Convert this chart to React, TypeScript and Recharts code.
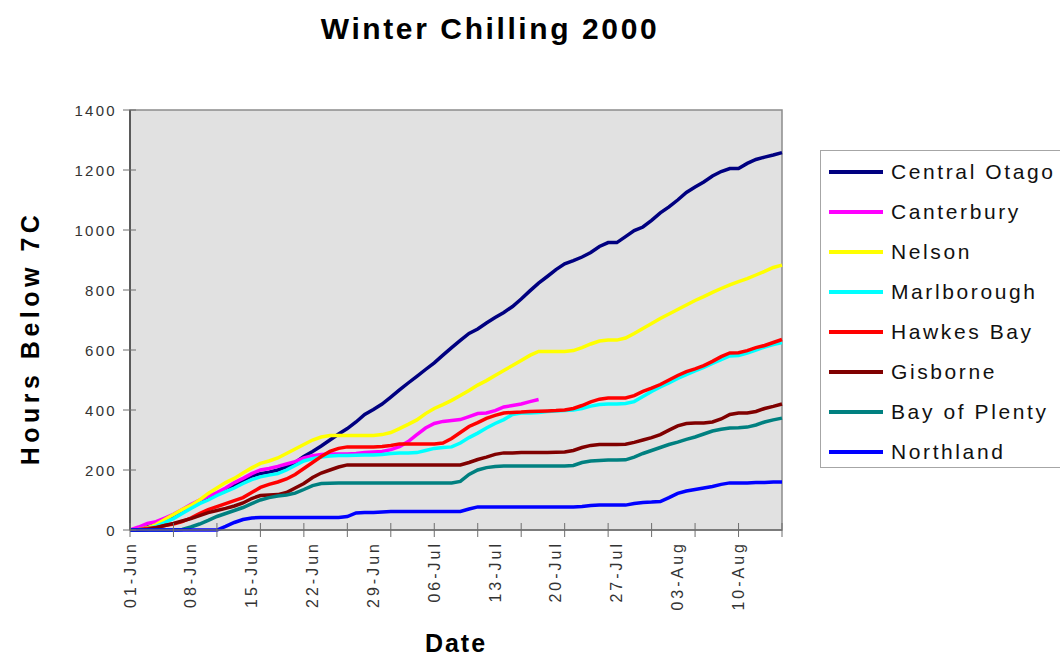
import React from 'react';
import { LineChart, Line, XAxis, YAxis, CartesianGrid, ReferenceArea } from 'recharts';

// cumulative hours below 7C, one value per day from 01-Jun
const centralOtago = [
  0, 3, 10, 18, 30, 45, 60, 75, 90, 105, 120, 135, 150, 165, 180, 188, 193, 200, 210, 225,
  245, 262, 280, 300, 320, 338, 360, 385, 402, 420, 443, 467, 490, 512, 535, 557, 583, 608, 632, 655,
  670, 690, 708, 725, 745, 770, 797, 823, 845, 868, 887, 898, 910, 925, 945, 958, 958, 978, 998, 1010,
  1032, 1057, 1077, 1100, 1125, 1143, 1160, 1180, 1195, 1205, 1205, 1222, 1235, 1243, 1250, 1258,
];
const canterbury = [
  0, 10, 22, 28, 40, 52, 68, 85, 100, 112, 125, 140, 158, 172, 188, 200, 205, 212, 220, 228,
  240, 248, 252, 253, 253, 253, 255, 258, 260, 262, 268, 278, 295, 318, 340, 355, 362, 365, 368, 378,
  388, 390, 398, 410, 415, 420, 428, 435,
];
const nelson = [
  0, 2, 8, 18, 35, 52, 68, 82, 100, 122, 140, 158, 172, 190, 207, 222, 230, 240, 255, 270,
  285, 300, 310, 315, 315, 315, 315, 315, 315, 318, 325, 338, 352, 367, 388, 405, 418, 432, 448, 465,
  483, 498, 515, 532, 548, 565, 582, 595, 595, 595, 595, 598, 608, 620, 630, 633, 633, 640, 655, 672,
  688, 705, 720, 735, 750, 765, 778, 792, 805, 817, 828, 838, 850, 862, 875, 883,
];
const marlborough = [
  0, 2, 5, 12, 25, 38, 55, 72, 88, 100, 115, 128, 140, 155, 168, 177, 183, 188, 200, 215,
  230, 238, 243, 247, 248, 248, 249, 250, 250, 252, 255, 257, 257, 258, 265, 272, 275, 277, 290, 308,
  323, 340, 355, 368, 385, 390, 390, 392, 395, 397, 398, 400, 405, 413, 418, 420, 420, 422, 428, 445,
  462, 477, 490, 505, 518, 530, 542, 555, 568, 580, 582, 590, 600, 610, 618, 625,
];
const hawkesBay = [
  0, 2, 5, 8, 15, 20, 28, 40, 55, 68, 78, 88, 98, 108, 125, 142, 152, 160, 170, 185,
  205, 225, 245, 262, 272, 277, 277, 277, 277, 278, 282, 287, 287, 287, 287, 287, 290, 305, 325, 345,
  358, 372, 382, 390, 392, 393, 395, 396, 397, 398, 400, 405, 415, 427, 436, 440, 440, 440, 448, 462,
  473, 485, 500, 515, 528, 537, 548, 562, 578, 590, 591, 598, 608, 615, 625, 635,
];
const gisborne = [
  0, 0, 2, 8, 15, 22, 30, 38, 48, 58, 65, 72, 80, 90, 105, 115, 117, 118, 125, 140,
  155, 175, 190, 200, 210, 217, 217, 217, 217, 217, 217, 217, 217, 217, 217, 217, 217, 217, 217, 225,
  235, 243, 252, 257, 257, 258, 258, 258, 258, 259, 260, 265, 275, 282, 285, 285, 285, 286, 292, 300,
  308, 318, 333, 347, 355, 357, 357, 360, 370, 385, 390, 390, 395, 405, 412, 420,
];
const bayOfPlenty = [
  0, 0, 0, 0, 0, 0, 2, 10, 20, 32, 45, 55, 65, 75, 88, 100, 108, 113, 117, 123,
  135, 148, 155, 156, 157, 157, 157, 157, 157, 157, 157, 157, 157, 157, 157, 157, 157, 157, 162, 185,
  200, 208, 212, 213, 213, 213, 213, 213, 213, 213, 213, 215, 225, 230, 232, 233, 233, 234, 243, 255,
  265, 275, 285, 293, 302, 310, 320, 330, 336, 340, 341, 343, 350, 360, 367, 373,
];
const northland = [
  0, 0, 0, 0, 0, 0, 0, 0, 0, 0, 0, 12, 25, 35, 40, 42, 42, 42, 42, 42,
  42, 42, 42, 42, 42, 45, 57, 58, 58, 60, 62, 62, 62, 62, 62, 62, 62, 62, 62, 70,
  77, 77, 77, 77, 77, 77, 77, 77, 77, 77, 77, 77, 78, 82, 83, 83, 83, 83, 88, 92,
  93, 95, 108, 122, 130, 135, 140, 145, 152, 157, 157, 157, 158, 158, 160, 160,
];

const labelDays = [0, 7, 14, 21, 28, 35, 42, 49, 56, 63, 70];
const labelText = ['01-Jun', '08-Jun', '15-Jun', '22-Jun', '29-Jun', '06-Jul', '13-Jul', '20-Jul', '27-Jul', '03-Aug', '10-Aug'];
const markDays = [0, 5, 10, 15, 20, 25, 30, 35, 40, 45, 50, 55, 60, 65, 70, 75];
const yTicks = [0, 200, 400, 600, 800, 1000, 1200, 1400];

const series = [
  { key: 'centralOtago', name: 'Central Otago', color: '#000080', values: centralOtago },
  { key: 'canterbury', name: 'Canterbury', color: '#ff00ff', values: canterbury },
  { key: 'nelson', name: 'Nelson', color: '#ffff00', values: nelson },
  { key: 'marlborough', name: 'Marlborough', color: '#00ffff', values: marlborough },
  { key: 'hawkesBay', name: 'Hawkes Bay', color: '#ff0000', values: hawkesBay },
  { key: 'gisborne', name: 'Gisborne', color: '#800000', values: gisborne },
  { key: 'bayOfPlenty', name: 'Bay of Plenty', color: '#008080', values: bayOfPlenty },
  { key: 'northland', name: 'Northland', color: '#0000ff', values: northland },
];

const data = centralOtago.map((_, day) => {
  const row: Record<string, number> = { day };
  series.forEach((s) => {
    if (day < s.values.length) row[s.key] = s.values[day];
  });
  return row;
});

const xTicks = Array.from(new Set([...markDays, ...labelDays])).sort((a, b) => a - b);

const FONT = '"Liberation Sans", Arial, sans-serif';
const AXIS = '#6e6e6e';

const XTick = (props: any) => {
  const { x, y, payload } = props;
  const d = payload.value;
  const li = labelDays.indexOf(d);
  return (
    <g>
      {markDays.includes(d) && <line x1={x} x2={x} y1={y - 7} y2={y + 7} stroke={AXIS} strokeWidth={1} />}
      {li >= 0 && (
        <text
          transform={`translate(${x},${y + 11}) rotate(-90)`}
          textAnchor="end"
          dominantBaseline="central"
          fontSize={16}
          letterSpacing={3}
          fill="#333"
          fontFamily={FONT}
        >
          {labelText[li]}
        </text>
      )}
    </g>
  );
};

const YTick = (props: any) => {
  const { x, y, payload } = props;
  return (
    <g>
      <line x1={x - 7} x2={x + 6} y1={y} y2={y} stroke={AXIS} strokeWidth={1} />
      <text x={x - 13} y={y} textAnchor="end" dominantBaseline="central" fontSize={15} letterSpacing={2.3} fill="#333" fontFamily={FONT}>
        {payload.value}
      </text>
    </g>
  );
};

const YTitle = () => (
  <text
    transform="translate(30,338) rotate(-90)"
    textAnchor="middle"
    dominantBaseline="central"
    fontSize={25}
    fontWeight="bold"
    letterSpacing={4.5}
    fill="#000"
    fontFamily={FONT}
  >
    Hours Below 7C
  </text>
);

const XTitle = () => (
  <text x={456} y={643} textAnchor="middle" dominantBaseline="central" fontSize={25} fontWeight="bold" letterSpacing={2} fill="#000" fontFamily={FONT}>
    Date
  </text>
);

export default function App() {
  return (
    <div style={{ position: 'absolute', left: 0, top: 0, width: 1060, height: 659, background: '#fff' }}>
      <div
        style={{
          position: 'absolute',
          left: 240,
          top: 12,
          width: 500,
          textAlign: 'center',
          fontFamily: FONT,
          fontWeight: 'bold',
          fontSize: 30,
          letterSpacing: 2.6,
          color: '#000',
        }}
      >
        Winter Chilling 2000
      </div>
      <LineChart width={1060} height={659} data={data} margin={{ top: 110, right: 278, bottom: 0, left: 0 }}>
        <CartesianGrid horizontal={false} vertical={false} fill="#e1e1e1" />
        <ReferenceArea x1={0} x2={75} y1={0} y2={1400} fill="none" stroke="#8c8c8c" strokeWidth={1.5} />
        <XAxis
          dataKey="day"
          type="number"
          domain={[0, 75]}
          ticks={xTicks}
          interval={0}
          height={129}
          tickSize={0}
          tickMargin={0}
          tickLine={false}
          axisLine={{ stroke: AXIS, strokeWidth: 1.5 }}
          tick={<XTick />}
          label={<XTitle />}
        />
        <YAxis
          type="number"
          domain={[0, 1400]}
          ticks={yTicks}
          interval={0}
          width={130}
          tickSize={0}
          tickMargin={0}
          tickLine={false}
          axisLine={{ stroke: '#5a5a5a', strokeWidth: 2 }}
          tick={<YTick />}
          label={<YTitle />}
        />
        {series.map((s) => (
          <Line
            key={s.key}
            dataKey={s.key}
            name={s.name}
            stroke={s.color}
            strokeWidth={3.5}
            dot={false}
            type="linear"
            isAnimationActive={false}
            connectNulls={false}
          />
        ))}
      </LineChart>
      <div
        style={{
          position: 'absolute',
          left: 820,
          top: 150,
          width: 250,
          height: 318,
          border: '1px solid #a6a6a6',
          background: '#fff',
          boxSizing: 'border-box',
          fontFamily: FONT,
        }}
      >
        {series.map((s, i) => (
          <div key={s.key} style={{ position: 'absolute', left: 8, top: 8 + i * 40, height: 26, display: 'flex', alignItems: 'center' }}>
            <div style={{ width: 54, height: 4, background: s.color }} />
            <span style={{ marginLeft: 8, fontSize: 21, letterSpacing: 2.6, color: '#111', whiteSpace: 'nowrap' }}>{s.name}</span>
          </div>
        ))}
      </div>
    </div>
  );
}
